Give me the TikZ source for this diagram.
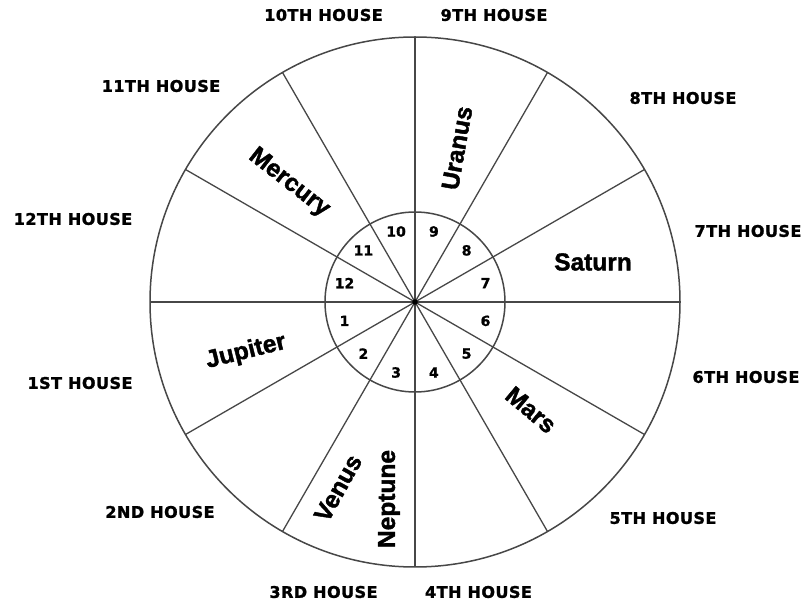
\documentclass[tikz,border=0pt]{standalone}
\usepackage{fontspec}
\newfontfamily\labfont[LetterSpace=3.0,FakeBold=1.6]{DejaVu Sans}
\newfontfamily\numfont[FakeBold=1.2]{DejaVu Sans}
\newfontfamily\planetfont[FakeBold=1.6]{Liberation Sans}
\begin{document}
\begin{tikzpicture}[x=1pt,y=1pt,
  spoke/.style={draw=black!72, line width=1.3pt},
  ring/.style={draw=black!72, line width=1.5pt},
  house/.style={font=\labfont\bfseries\fontsize{16}{18}\selectfont, inner sep=0pt},
  num/.style={font=\numfont\bfseries\fontsize{14}{16}\selectfont, inner sep=0pt},
  planet/.style={font=\planetfont\bfseries\fontsize{24.5}{26}\selectfont, inner sep=0pt}]
\useasboundingbox (0,0) rectangle (804,603);
\fill[white] (0,0) rectangle (804,603);
\coordinate (c) at (415,301);
% spokes
\foreach \i in {0,...,11}{
  \path (c) ++(\i*30:265) coordinate (s\i);
  \draw[spoke] (c) -- (s\i);
}
\draw[ring] (c) circle[radius=265];
\draw[ring] (c) circle[radius=90];
\fill[black] (c) circle[radius=2.8];
% house numbers
\foreach \k in {1,...,12}{
  \path (c) ++({195+30*(\k-1)}:73) node[num] (n\k) {\k};
}
% house labels
\node[house] (h10) at (323.5,588) {10TH HOUSE};
\node[house] (h9)  at (494,588)   {9TH HOUSE};
\node[house] (h11) at (161,517)   {11TH HOUSE};
\node[house] (h8)  at (683,505)   {8TH HOUSE};
\node[house] (h12) at (73,384)    {12TH HOUSE};
\node[house] (h7)  at (748,372)   {7TH HOUSE};
\node[house] (h1)  at (80,220)    {1ST HOUSE};
\node[house] (h6)  at (746,226)   {6TH HOUSE};
\node[house] (h2)  at (160,91)    {2ND HOUSE};
\node[house] (h5)  at (663,85)    {5TH HOUSE};
\node[house] (h3)  at (323.5,11)  {3RD HOUSE};
\node[house] (h4)  at (478.5,11)  {4TH HOUSE};
% planets
\node[planet, rotate=80]  (uranus)  at (457,455) {Uranus};
\node[planet, rotate=-38] (mercury) at (289,420) {Mercury};
\node[planet]             (saturn)  at (593,341) {Saturn};
\node[planet, rotate=14]  (jupiter) at (246,251) {Jupiter};
\node[planet, rotate=-40] (mars)    at (531,193) {Mars};
\node[planet, rotate=61]  (venus)   at (338,115) {Venus};
\node[planet, rotate=90]  (neptune) at (389,104) {Neptune};
\end{tikzpicture}
\end{document}
